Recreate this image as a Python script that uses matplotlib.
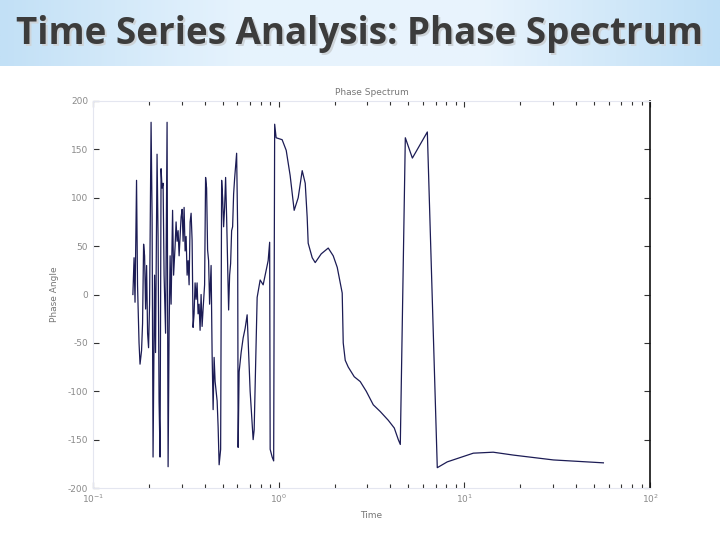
import numpy as np
import matplotlib
matplotlib.use("Agg")
import matplotlib.pyplot as plt
from matplotlib.colors import LinearSegmentedColormap

# ---- data (period / time, phase angle in degrees) ----
time = [0.164, 0.1664, 0.1684, 0.1716, 0.1737, 0.1770, 0.1792, 0.1826, 0.1849,
        0.1873, 0.1896, 0.1920, 0.1944, 0.1968, 0.1992, 0.2017, 0.2055, 0.2081,
        0.2106, 0.2146, 0.2172, 0.2213, 0.2241, 0.2269, 0.2297, 0.2326, 0.2355,
        0.2385, 0.2415, 0.2460, 0.2506, 0.2538, 0.2569, 0.2602, 0.2634, 0.2683,
        0.2717, 0.2768, 0.2802, 0.2837, 0.2873, 0.2909, 0.2945, 0.2982, 0.3019,
        0.3057, 0.3095, 0.3134, 0.3173, 0.3213, 0.3253, 0.3293, 0.3335, 0.3376,
        0.3418, 0.3460, 0.3503, 0.3547, 0.3591, 0.3636, 0.3681, 0.3727, 0.3774,
        0.3821, 0.3869, 0.3917, 0.3991, 0.4040, 0.4091, 0.4142, 0.4194, 0.4246,
        0.4326, 0.4380, 0.4436, 0.4491, 0.4547, 0.4604, 0.4662, 0.4720, 0.4779,
        0.4869, 0.4930, 0.4991, 0.5052, 0.5115, 0.5179, 0.5244, 0.5309, 0.5376,
        0.5443, 0.5511, 0.5580, 0.5649, 0.5720, 0.5792, 0.5937, 0.6011, 0.6049,
        0.6124, 0.6278, 0.6436, 0.6598, 0.6764, 0.7020, 0.7287, 0.7378, 0.7658,
        0.7949, 0.8250, 0.8563, 0.8778, 0.8943, 0.8999, 0.9225, 0.9398, 0.9516,
        0.969, 1.044, 1.098, 1.153, 1.212, 1.274, 1.339, 1.390, 1.424, 1.442,
        1.516, 1.573, 1.695, 1.849, 1.967, 2.068, 2.199, 2.227, 2.283, 2.370,
        2.553, 2.750, 2.963, 3.232, 3.526, 3.893, 4.195, 4.409, 4.52, 4.81,
        5.25, 6.32, 7.15, 8.09, 11.18, 14.3, 18.4, 30.2, 56.1]
phase = [0, 38, -8, 118, 10, -50, -72, -58, -30,
         52, 40, -15, 30, -40, -55, -10, 178, 80,
         -168, 20, -60, 145, 60, -110, -168, 130, 110,
         115, 20, -40, 178, -178, -40, 40, -10, 87,
         20, 50, 75, 55, 66, 40, 60, 80, 88,
         55, 90, 45, 60, 20, 35, 10, 75, 84,
         56, -34, -20, 12, -5, 12, -20, -10, -37,
         0, -33, -15, 10, 121, 110, 46, 35, -10,
         30, -61, -119, -65, -90, -100, -110, -137, -176,
         -160, 118, 100, 70, 90, 121, 80, 30, -16,
         20, 32, 66, 70, 104, 120, 146, 70, -158,
         -80, -60, -45, -35, -21, -100, -150, -140, -3,
         15, 10, 25, 35, 54, -160, -168, -172, 176,
         162, 160, 149, 123, 87, 100, 128, 115, 80, 53,
         38, 33, 42, 48, 40, 28, 1.5, -50, -68, -75,
         -85, -90, -100, -114, -121, -130, -138, -150, -155, 162,
         141, 168, -179, -173, -164, -163, -166, -171, -174]

yticks = [-200, -150, -100, -50, 0, 50, 100, 150, 200]
xticks = [0.1, 1, 10, 100]
xticklabels = [r"$10^{-1}$", r"$10^{0}$", r"$10^{1}$", r"$10^{2}$"]

fig = plt.figure(figsize=(7.2, 5.4), dpi=100)
fig.patch.set_facecolor("white")

# ---- header band with gradient ----
hdr = fig.add_axes([0, 1 - 66 / 540, 1, 66 / 540])
cmap = LinearSegmentedColormap.from_list(
    "hdr", ["#c2e0f6", "#e6f3fd", "#e9f4fd", "#bfdff6"])
grad = np.linspace(0, 1, 256).reshape(1, -1)
hdr.imshow(grad, aspect="auto", cmap=cmap, extent=[0, 1, 0, 1])
hdr.set_axis_off()
hdr.text(0.5015, 0.46, "Time Series Analysis: Phase Spectrum", ha="center",
         va="center", fontsize=26.5, fontweight="bold", family="Open Sans",
         color="#cdd3d8")
hdr.text(0.5, 0.48, "Time Series Analysis: Phase Spectrum", ha="center",
         va="center", fontsize=26.5, fontweight="bold", family="Open Sans",
         color="#3c3c3c")

# ---- plot ----
ax = fig.add_axes([93 / 720, 1 - 488 / 540, (650 - 93) / 720, (488 - 101) / 540])
ax.plot(time, phase, color="#1c1c55", lw=0.9)
ax.set_xscale("log")
ax.set_xlim(0.1, 100)
ax.set_ylim(-200, 200)
ax.set_yticks(yticks)
ax.set_yticklabels([str(v) for v in yticks])
ax.set_xticks(xticks)
ax.set_xticklabels(xticklabels)
ax.tick_params(axis="both", which="both", direction="in", top=True, right=True,
               labelsize=6.5, labelcolor="#8a8a8a", color="#333333")
ax.tick_params(axis="both", which="major", length=4, width=0.8)
ax.tick_params(axis="x", which="minor", length=3, width=0.8)
for side in ["left", "top", "bottom"]:
    ax.spines[side].set_color("#e4e6f0")
ax.spines["right"].set_color("#111111")
ax.spines["right"].set_linewidth(1.2)
ax.set_title("Phase Spectrum", fontsize=6.5, color="#777777", pad=4)
ax.set_xlabel("Time", fontsize=6.5, color="#777777", labelpad=4)
ax.set_ylabel("Phase Angle", fontsize=6.5, color="#777777", labelpad=6)

fig.savefig("out.png", dpi=100)
